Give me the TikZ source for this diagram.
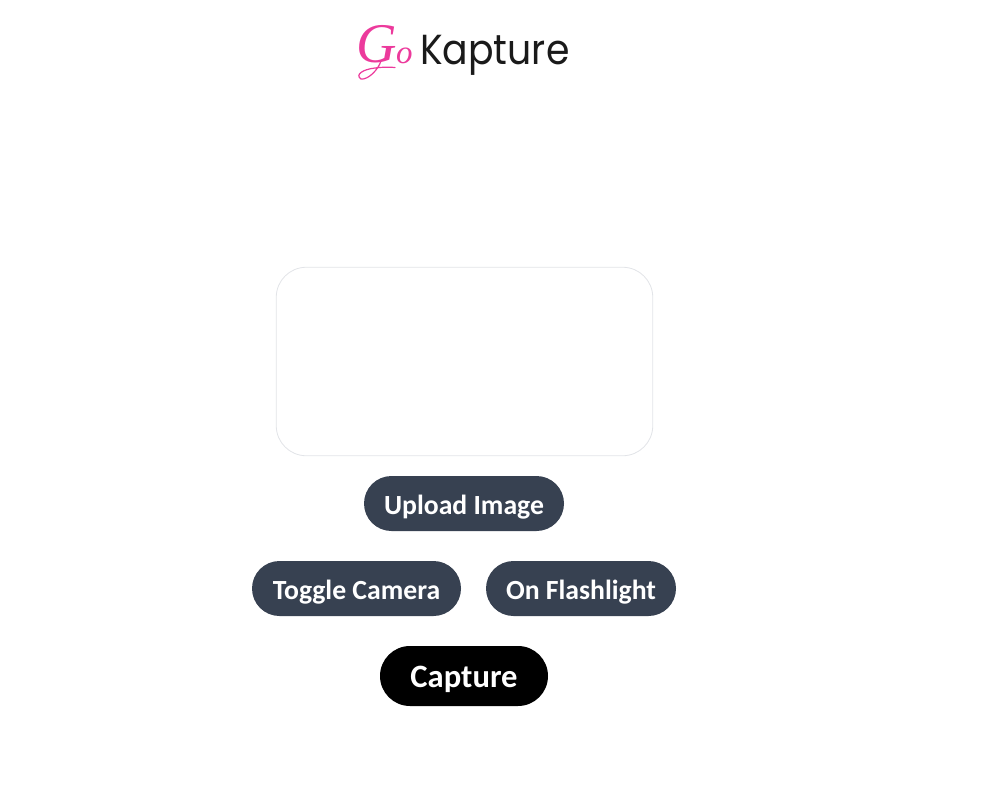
\documentclass[tikz,border=0pt]{standalone}
\usepackage{fontspec}
\setmainfont{Carlito}
\newfontfamily\logofont{Poppins}
\newfontfamily\gofont{Liberation Serif}
\definecolor{slatebtn}{HTML}{374151}
\definecolor{logopink}{HTML}{EC3A9C}
\definecolor{logoink}{HTML}{1A1A1A}
\definecolor{panelline}{HTML}{E2E4E8}
\tikzset{
  pill/.style={fill=slatebtn,draw=none,rounded corners=27.5pt,minimum height=55pt,inner sep=0pt,text=white,text height=21pt,text depth=0pt,font=\fontsize{27.7}{29}\selectfont\bfseries},
  shot/.style={fill=black,draw=none,rounded corners=30pt,minimum height=60pt,minimum width=168pt,inner sep=0pt,text=white,text height=23.5pt,text depth=0pt,font=\fontsize{32.6}{34}\selectfont\bfseries},
  panel/.style={draw=panelline,line width=0.8pt,fill=white,rounded corners=30pt,minimum width=376.5pt,minimum height=188.5pt,inner sep=0pt},
  kap/.style={text=logoink,font=\logofont\fontsize{42}{44}\selectfont,inner sep=0pt,anchor=base west},
  goletter/.style={text=logopink,inner sep=0pt,anchor=base west},
}
\begin{document}
\begin{tikzpicture}[x=1pt,y=-1pt]
\useasboundingbox (0,0) rectangle (996,792);
\node[panel] (view) at (464.5,361.5) {};
\node[pill,minimum width=200pt] (upload) at (464,503.5) {Upload Image};
\node[pill,minimum width=209pt] (toggle) at (356.5,588.5) {Toggle Camera};
\node[pill,minimum width=190pt] (flash) at (581,588.5) {On Flashlight};
\node[shot] (capture) at (464,676) {Capture};
\node[kap] (kapture) at (420,64) {\scalebox{0.9}[1]{Kapture}};
\node[goletter,font=\gofont\itshape\fontsize{56}{56}\selectfont] (g) at (356,63) {G};
\node[goletter,font=\gofont\itshape\fontsize{33}{33}\selectfont] (o) at (396,63.5) {o};
\draw[logopink,line width=1.2pt,line cap=round] (381,61) .. controls (378,70) and (368,80) .. (361,79) .. controls (355,75) and (362,69.5) .. (375,68) .. controls (382,67) and (390,67) .. (395,67.5);
\end{tikzpicture}
\end{document}
